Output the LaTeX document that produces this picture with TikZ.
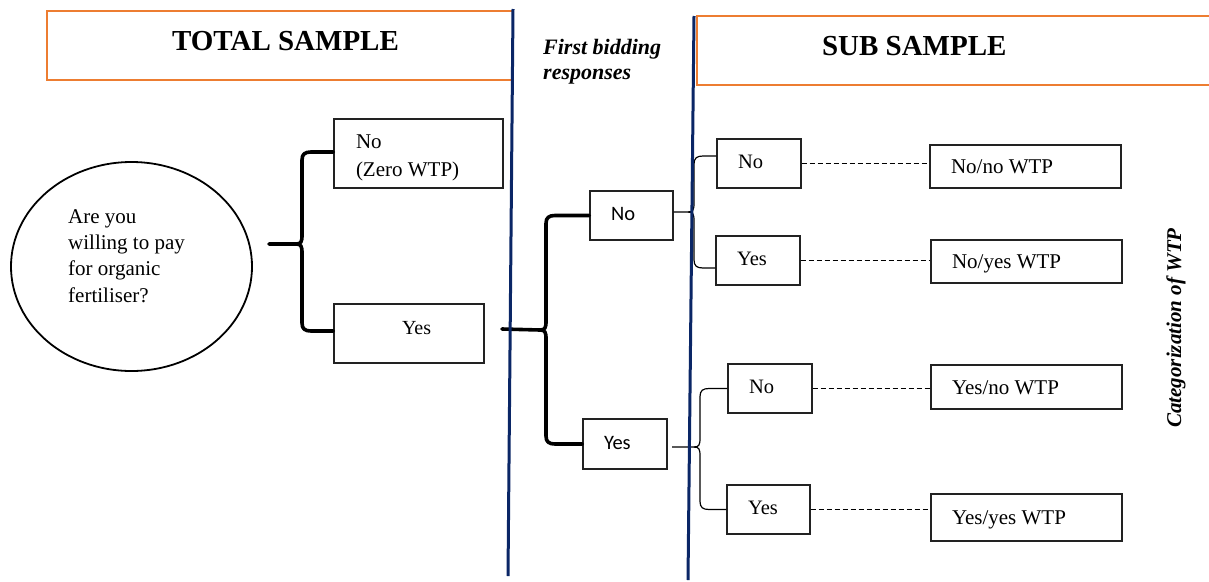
\documentclass[tikz,border=0pt]{standalone}
\usepackage{fontspec}
\setmainfont{Liberation Serif}
\newfontfamily\calibri{Carlito}
\usetikzlibrary{calc,shapes.geometric}

\definecolor{hdrorange}{HTML}{ED7D31}
\definecolor{divnavy}{HTML}{0A2666}
\definecolor{boxline}{HTML}{222222}

\tikzset{
  bx/.style={draw=boxline, line width=1.2pt, rectangle, inner ysep=0pt,
             align=flush left, text height=14pt, text depth=4pt},
  serifA/.style={font=\fontsize{20.5}{25}\selectfont},
  serifB/.style={font=\fontsize{21}{28}\selectfont},
  sansA/.style={font=\calibri\fontsize{20.5}{25}\selectfont},
  header/.style={draw=hdrorange, line width=2.4pt, rectangle, inner sep=0pt,
                 align=flush left, font=\bfseries\fontsize{29}{34}\selectfont,
                 text height=20pt, text depth=11pt},
  note/.style={inner sep=0pt, align=flush left,
               font=\bfseries\itshape\fontsize{22}{25}\selectfont},
  thb/.style={line width=3.6pt, line cap=round, line join=round},
  thn/.style={line width=1.2pt, line join=round},
  dsh/.style={line width=1pt, dash pattern=on 5pt off 3pt},
  divider/.style={draw=divnavy, line width=3pt}
}

% curly brace: stub start, tip, x of the spine, upper target, lower target
\newcommand\drawbrace[6]{%
  \draw[#1] (#2) -- (#3) .. controls +(5,0) and +(0,7) .. ($(#3)+(6,-9)$)
    -- ($(#5 -| #4)+(0,8)$) .. controls +(0,-6) and +(-6,0) .. ($(#5 -| #4)+(9,0)$) -- (#5);
  \draw[#1] (#3) .. controls +(5,0) and +(0,-7) .. ($(#3)+(6,9)$)
    -- ($(#6 -| #4)+(0,-8)$) .. controls +(0,6) and +(-6,0) .. ($(#6 -| #4)+(9,0)$) -- (#6);
}

\begin{document}
\begin{tikzpicture}[x=1pt, y=-1pt]
\useasboundingbox (0,0) rectangle (1209,581);

% headers
\node[header, minimum width=466, minimum height=69, text width=466] (total) at (280,45.5)
      {\hspace*{125pt}TOTAL SAMPLE};
\node[header, minimum width=518, minimum height=69, text width=518] (sub) at (956,50.5)
      {\hspace*{125pt}SUB SAMPLE};
\node[note, anchor=west] (first) at (543,62) {First bidding\\responses};
\node[note, font=\bfseries\itshape\fontsize{21}{25}\selectfont, rotate=90] (categ) at (1176,328) {Categorization of WTP};

% question
\node[draw=black, line width=1.8pt, ellipse, minimum width=241, minimum height=209, inner sep=0pt] (q) at (131.5,266.5) {};
\node[inner sep=0pt, align=flush left, anchor=west, font=\fontsize{21}{26.3}\selectfont] (qtext) at (68,256)
  {Are you\\willing to pay\\for organic\\fertiliser?};

% total sample answers
\node[bx, serifB, minimum width=169, minimum height=69, text width=125, inner xsep=22pt,
      text height=14pt, text depth=25pt] (nozero) at (418.5,153.5) {No\\(Zero WTP)};
\node[bx, font=\fontsize{20}{25}\selectfont, minimum width=150, minimum height=59, text width=150,
      inner xsep=0pt, text depth=13pt] (yes1) at (409,333.5) {\hspace*{68pt}Yes};

% first bidding responses
\node[bx, sansA, minimum width=83, minimum height=49, text width=41, inner xsep=21pt] (m1) at (631.5,215.5) {No};
\node[bx, sansA, minimum width=84, minimum height=50, text width=42, inner xsep=21pt] (m2) at (625,444) {Yes};

% second bidding responses
\node[bx, serifA, minimum width=84, minimum height=49, text width=42, inner xsep=21pt] (s1) at (759,163.5) {No};
\node[bx, serifA, minimum width=84, minimum height=49, text width=42, inner xsep=21pt] (s2) at (758,260.5) {Yes};
\node[bx, serifA, minimum width=84, minimum height=49, text width=42, inner xsep=21pt] (s3) at (770,388.5) {No};
\node[bx, serifA, minimum width=83, minimum height=49, text width=41, inner xsep=21pt] (s4) at (768.5,509.5) {Yes};

% WTP categories
\node[bx, serifB, minimum width=191, minimum height=43, text width=149, inner xsep=21pt, text depth=0pt] (c1) at (1025.5,166.5) {No/no WTP};
\node[bx, serifB, minimum width=191, minimum height=43, text width=149, inner xsep=21pt, text depth=0pt] (c2) at (1026.5,261.5) {No/yes WTP};
\node[bx, serifB, minimum width=191, minimum height=44, text width=149, inner xsep=21pt, text depth=0pt] (c3) at (1026.5,387) {Yes/no WTP};
\node[bx, serifB, minimum width=191, minimum height=47, text width=149, inner xsep=21pt, text depth=0pt] (c4) at (1026.5,517.5) {Yes/yes WTP};

% brace anchors
\coordinate (b1s) at (269,244);  \coordinate (b1t) at (296,244);  \coordinate (b1v) at (302,244);
\coordinate (b2s) at (502,329);  \coordinate (b2t) at (540,330);  \coordinate (b2v) at (546,330);
\coordinate (b3s) at ([yshift=3.5pt]m1.east); \coordinate (b3t) at (688,212); \coordinate (b3v) at (694,212);
\coordinate (b4s) at (672,447);  \coordinate (b4t) at (694,447);  \coordinate (b4v) at (700,447);
\coordinate (nzin) at ([yshift=1.5pt]nozero.west);
\coordinate (y1in) at ([yshift=2.5pt]yes1.west);
\coordinate (s1in) at ([yshift=7.5pt]s1.west);
\coordinate (s2in) at ([yshift=-7.5pt]s2.west);

\drawbrace{thb}{b1s}{b1t}{b1v}{nzin}{y1in}
\drawbrace{thb}{b2s}{b2t}{b2v}{m1.west}{m2.west}
\drawbrace{thn}{b3s}{b3t}{b3v}{s1in}{s2in}
\drawbrace{thn}{b4s}{b4t}{b4v}{s3.west}{s4.west}

% links to categories
\draw[dsh] (s1.east) -- (s1.east -| c1.west);
\draw[dsh] (s2.east) -- (s2.east -| c2.west);
\draw[dsh] (s3.east) -- (s3.east -| c3.west);
\draw[dsh] (s4.east) -- (s4.east -| c4.west);

% section dividers
\coordinate (v1top) at (513,9);   \coordinate (v1bot) at (508,576);
\coordinate (v2top) at (694,16);  \coordinate (v2bot) at (688,580);
\draw[divider] (v1top) -- (v1bot);
\draw[divider] (v2top) -- (v2bot);
\end{tikzpicture}
\end{document}
